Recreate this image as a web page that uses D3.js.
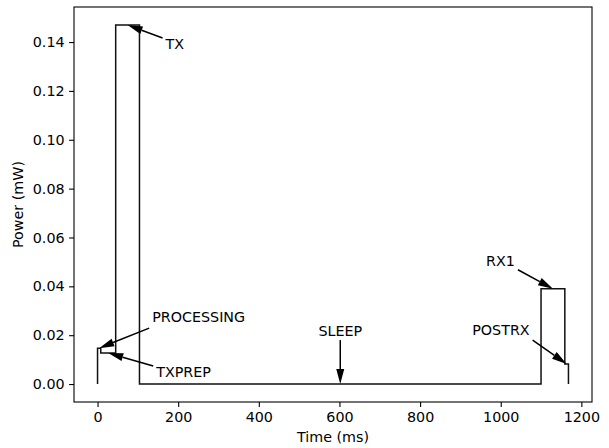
<!DOCTYPE html>
<html>
<head>
<meta charset="utf-8">
<script src="https://cdn.jsdelivr.net/npm/d3@7"></script>
<style>
  body { margin: 0; background: #fff; }
  text { font-family: "DejaVu Sans", sans-serif; fill: #000; }
</style>
</head>
<body>
<script>
// states of the radio cycle
var stateNames = ["PROCESSING", "TXPREP", "TX", "SLEEP", "RX1", "POSTRX"];
var startTimes = [0, 8, 45, 104, 1100, 1159];
var endTimes   = [8, 45, 104, 1100, 1159, 1168];
var powers     = [0.0147, 0.0127, 0.147, 0, 0.039, 0.0082];

var xTicks = [0, 200, 400, 600, 800, 1000, 1200];
var yTicks = [0, 0.02, 0.04, 0.06, 0.08, 0.10, 0.12, 0.14];

// label placement relative to arrow tip (px): tail dx,dy / text dx,dy / anchor
var labelLayout = {
  PROCESSING: {tx: 50, ty: -20, lx: 53, ly: -31, anchor: "start"},
  TXPREP:     {tx: 45, ty: 13,  lx: 48, ly: 19,  anchor: "start"},
  TX:         {tx: 35, ty: 13,  lx: 38, ly: 19,  anchor: "start"},
  SLEEP:      {tx: 0,  ty: -44, lx: 0,  ly: -53, anchor: "middle"},
  RX1:        {tx: -35, ty: -19, lx: -38, ly: -28, anchor: "end"},
  POSTRX:     {tx: -34, ty: -24, lx: -37, ly: -34, anchor: "end"}
};

var width = 609, height = 448;
var margin = {top: 7, right: 17, bottom: 46, left: 74};
var fontsize = 14.3;

var svg = d3.select("body").append("svg")
  .attr("width", width).attr("height", height);

// build the step trace
var pts = [[0, 0]];
stateNames.forEach(function(s, i){
  pts.push([startTimes[i], powers[i]]);
  pts.push([endTimes[i], powers[i]]);
});
pts.push([endTimes[endTimes.length - 1], 0]);

// matplotlib-like 5% padding
var xmin = 0, xmax = d3.max(endTimes);
var ymin = 0, ymax = d3.max(powers);
var xpad = (xmax - xmin) * 0.05, ypad = (ymax - ymin) * 0.05;

var x = d3.scaleLinear().domain([xmin - xpad, xmax + xpad])
  .range([margin.left, width - margin.right]);
var y = d3.scaleLinear().domain([ymin - ypad, ymax + ypad])
  .range([height - margin.bottom, margin.top]);

var line = d3.line().x(function(d){ return x(d[0]); }).y(function(d){ return y(d[1]); });

svg.append("path").datum(pts)
  .attr("d", line)
  .attr("fill", "none").attr("stroke", "#111").attr("stroke-width", 1.5)
  .attr("stroke-linejoin", "miter");

// axes
var xAxis = svg.append("g")
  .attr("transform", "translate(0," + (height - margin.bottom) + ")")
  .call(d3.axisBottom(x).tickValues(xTicks).tickFormat(d3.format("d")).tickSizeOuter(0).tickSize(4.9).tickPadding(4.5));
var yAxis = svg.append("g")
  .attr("transform", "translate(" + margin.left + ",0)")
  .call(d3.axisLeft(y).tickValues(yTicks).tickFormat(d3.format(".2f")).tickSizeOuter(0).tickSize(4.9).tickPadding(4.5));

[xAxis, yAxis].forEach(function(g){
  g.select(".domain").remove();
  g.selectAll(".tick line").attr("stroke", "#000").attr("stroke-width", 1.1);
  g.selectAll(".tick text").style("font-family", "DejaVu Sans, sans-serif").style("font-size", fontsize + "px").attr("fill", "#000");
});

// frame
svg.append("rect")
  .attr("x", margin.left).attr("y", margin.top)
  .attr("width", width - margin.left - margin.right)
  .attr("height", height - margin.top - margin.bottom)
  .attr("fill", "none").attr("stroke", "#000").attr("stroke-width", 1.1);

// axis titles
svg.append("text")
  .attr("x", (margin.left + width - margin.right) / 2).attr("y", 442)
  .attr("text-anchor", "middle").style("font-size", fontsize + "px")
  .text("Time (ms)");
svg.append("text")
  .attr("transform", "translate(23," + ((margin.top + height - margin.bottom) / 2) + ") rotate(-90)")
  .attr("text-anchor", "middle").style("font-size", fontsize + "px")
  .text("Power (mW)");

// annotations with arrows
var headLen = 15, headHalf = 4;
stateNames.forEach(function(s, i){
  var L = labelLayout[s];
  var px = x((startTimes[i] + endTimes[i]) / 2), py = y(powers[i]);
  var qx = px + L.tx, qy = py + L.ty;
  var dx = px - qx, dy = py - qy, len = Math.sqrt(dx*dx + dy*dy);
  var ux = dx / len, uy = dy / len;
  var bx = px - ux * headLen, by = py - uy * headLen;
  svg.append("line")
    .attr("x1", qx).attr("y1", qy).attr("x2", bx).attr("y2", by)
    .attr("stroke", "#000").attr("stroke-width", 1.5);
  svg.append("polygon")
    .attr("points", [[px, py], [bx - uy*headHalf, by + ux*headHalf], [bx + uy*headHalf, by - ux*headHalf]].map(function(p){ return p.join(","); }).join(" "))
    .attr("fill", "#000");
  svg.append("text")
    .attr("x", px + L.lx).attr("y", py + L.ly).attr("dy", "0.35em")
    .attr("text-anchor", L.anchor).style("font-size", fontsize + "px")
    .text(s);
});
</script>
</body>
</html>
